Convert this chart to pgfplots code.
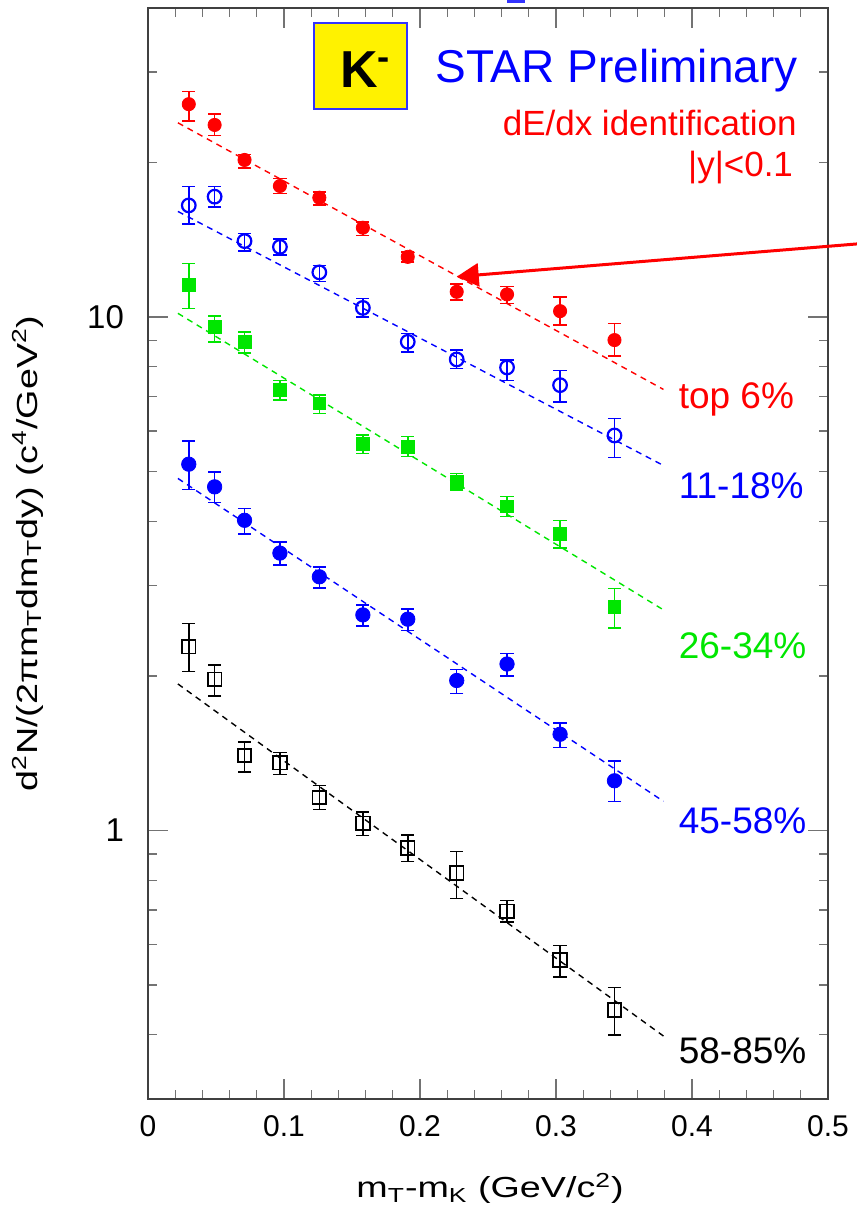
\documentclass[border=0pt]{standalone}
\usepackage{fontspec}
\setmainfont{Liberation Sans}
\newfontfamily\widesans[FakeStretch=1.3]{Liberation Sans}
\usepackage{pgfplots}
\pgfplotsset{compat=1.18}
\usetikzlibrary{arrows.meta}
\definecolor{rred}{RGB}{255,0,0}
\definecolor{rblue}{RGB}{0,0,255}
\definecolor{rgreen}{RGB}{0,230,0}
\pgfplotsset{
  errstyle/.style={only marks, error bars/y dir=both, error bars/y explicit,
    error bars/error bar style={line width=0.75pt},
    error bars/error mark options={rotate=90, mark size=3.3pt, line width=0.75pt}},
  fitline/.style={dash pattern=on 3pt off 2.5pt, line width=0.7pt},
}
\begin{document}
\begin{tikzpicture}
\begin{axis}[
  scale only axis, width=340pt, height=545.5pt,
  xmin=0, xmax=0.5, ymode=log, ymin=0.3, ymax=40,
  clip=false,
  axis line style={line width=1.2pt, draw=black!75},
  every tick/.style={draw=black!55, line width=0.6pt},
  major tick length=10pt, minor tick length=4.5pt,
  xtick={0,0.1,0.2,0.3,0.4,0.5},
  xticklabels={0,0.1,0.2,0.3,0.4,0.5},
  minor x tick num=4,
  ytick={1,10}, yticklabels={1,10},
  minor ytick={0.3,0.4,0.5,0.6,0.7,0.8,0.9,2,3,4,5,6,7,8,9,20,30,40},
  /pgf/number format/assume math mode=true,
  xticklabel style={font=\fontsize{15}{17}\selectfont, yshift=-4.5pt},
  yticklabel style={font=\fontsize{16.5}{18}\selectfont, xshift=-8.5pt},
  xlabel={m\textsubscript{T}-m\textsubscript{K} (GeV/c\textsuperscript{2})},
  ylabel={d\textsuperscript{2}N/(2πm\textsubscript{T}dm\textsubscript{T}dy) (c\textsuperscript{4}/GeV\textsuperscript{2})},
  xlabel style={font=\widesans\fontsize{14.5}{16}\selectfont, at={(axis description cs:0.503,-0.082)}, anchor=center},
  ylabel style={font=\widesans\fontsize{14.5}{16}\selectfont, at={(axis description cs:-0.1765,0.5)}, anchor=center, rotate=0},
]
% fit lines
\addplot[rred, fitline] coordinates {(0.022,23.9) (0.379,7.23)};
\addplot[rblue, fitline] coordinates {(0.022,16.06) (0.379,5.14)};
\addplot[rgreen, fitline] coordinates {(0.022,10.17) (0.379,2.69)};
\addplot[rblue, fitline] coordinates {(0.022,4.85) (0.379,1.14)};
\addplot[black, fitline] coordinates {(0.022,1.93) (0.379,0.398)};

% top 6%
\addplot[rred, mark=*, mark size=3.3pt, errstyle] coordinates {
(0.030,25.98) += (0,1.5) -= (0,1.9)
(0.049,23.67) += (0,1.2) -= (0,1.1)
(0.071,20.23) += (0,0.5) -= (0,0.7)
(0.097,18.0) += (0,0.6) -= (0,0.6)
(0.126,17.08) += (0,0.45) -= (0,0.55)
(0.158,14.93) += (0,0.4) -= (0,0.5)
(0.191,13.1) += (0,0.3) -= (0,0.3)
(0.227,11.2) += (0,0.4) -= (0,0.4)
(0.264,11.07) += (0,0.4) -= (0,0.45)
(0.303,10.27) += (0,0.67) -= (0,0.62)
(0.343,9.02) += (0,0.7) -= (0,0.62)
};
% 11-18%
\addplot[rblue, mark=o, mark size=3.4pt, mark options={line width=1.1pt, fill=white}, errstyle] coordinates {
(0.030,16.5) += (0,1.48) -= (0,1.32)
(0.049,17.16) += (0,0.82) -= (0,0.76)
(0.071,14.06) += (0,0.5) -= (0,0.6)
(0.097,13.7) += (0,0.5) -= (0,0.5)
(0.126,12.22) += (0,0.38) -= (0,0.5)
(0.158,10.42) += (0,0.46) -= (0,0.41)
(0.191,8.95) += (0,0.34) -= (0,0.39)
(0.227,8.27) += (0,0.36) -= (0,0.33)
(0.264,7.98) += (0,0.26) -= (0,0.45)
(0.303,7.37) += (0,0.5) -= (0,0.54)
(0.343,5.88) += (0,0.47) -= (0,0.55)
};
% 26-34%
\addplot[rgreen, mark=square*, mark size=3.2pt, errstyle] coordinates {
(0.030,11.54) += (0,1.19) -= (0,1.14)
(0.049,9.58) += (0,0.46) -= (0,0.63)
(0.071,8.95) += (0,0.41) -= (0,0.43)
(0.097,7.21) += (0,0.32) -= (0,0.32)
(0.126,6.79) += (0,0.26) -= (0,0.3)
(0.158,5.67) += (0,0.22) -= (0,0.25)
(0.191,5.59) += (0,0.26) -= (0,0.24)
(0.227,4.77) += (0,0.19) -= (0,0.17)
(0.264,4.28) += (0,0.19) -= (0,0.19)
(0.303,3.78) += (0,0.24) -= (0,0.23)
(0.343,2.73) += (0,0.23) -= (0,0.25)
};
% 45-58%
\addplot[rblue, mark=*, mark size=3.6pt, errstyle] coordinates {
(0.030,5.17) += (0,0.57) -= (0,0.55)
(0.049,4.67) += (0,0.32) -= (0,0.32)
(0.071,4.02) += (0,0.22) -= (0,0.24)
(0.097,3.47) += (0,0.18) -= (0,0.18)
(0.126,3.12) += (0,0.14) -= (0,0.15)
(0.158,2.63) += (0,0.12) -= (0,0.13)
(0.191,2.58) += (0,0.12) -= (0,0.13)
(0.227,1.96) += (0,0.10) -= (0,0.11)
(0.264,2.11) += (0,0.10) -= (0,0.11)
(0.303,1.54) += (0,0.08) -= (0,0.09)
(0.343,1.25) += (0,0.115) -= (0,0.11)
};
% 58-85%
\addplot[black, mark=square, mark size=3.4pt, mark options={line width=0.9pt, fill=white}, errstyle] coordinates {
(0.030,2.28) += (0,0.25) -= (0,0.24)
(0.049,1.97) += (0,0.13) -= (0,0.14)
(0.071,1.40) += (0,0.086) -= (0,0.10)
(0.097,1.355) += (0,0.065) -= (0,0.07)
(0.126,1.16) += (0,0.064) -= (0,0.06)
(0.158,1.033) += (0,0.053) -= (0,0.055)
(0.191,0.925) += (0,0.056) -= (0,0.054)
(0.227,0.826) += (0,0.085) -= (0,0.088)
(0.264,0.696) += (0,0.034) -= (0,0.033)
(0.303,0.560) += (0,0.037) -= (0,0.041)
(0.343,0.447) += (0,0.048) -= (0,0.047)
};

% series labels
\node[anchor=base west, inner sep=0pt, text=rred, font=\fontsize{18.5}{20}\selectfont] at (axis cs:0.39,6.65) {top 6\%};
\node[anchor=base west, inner sep=0pt, text=rblue, font=\fontsize{18.5}{20}\selectfont] at (axis cs:0.39,4.44) {11-18\%};
\node[anchor=base west, inner sep=0pt, text=rgreen, font=\fontsize{18.5}{20}\selectfont] at (axis cs:0.39,2.164) {26-34\%};
\node[anchor=base west, inner sep=0pt, text=rblue, font=\fontsize{18.5}{20}\selectfont] at (axis cs:0.39,0.9866) {45-58\%};
\node[anchor=base west, inner sep=0pt, text=black, font=\fontsize{18.5}{20}\selectfont] at (axis cs:0.39,0.3514) {58-85\%};

% header
\draw[rblue!80, line width=0.7pt, fill=yellow] (axis description cs:0.2441,0.9074) rectangle (axis description cs:0.3809,0.9863);
\node[anchor=base west, inner sep=0pt, font=\fontsize{26}{28}\selectfont\bfseries] at (axis description cs:0.2824,0.9267) {K\textsuperscript{-}};
\node[anchor=base east, inner sep=0pt, text=rblue, font=\fontsize{23}{26}\selectfont] at (axis description cs:0.9559,0.9313) {STAR Preliminary};
\node[anchor=base east, inner sep=0pt, text=rred, font=\fontsize{17.5}{20}\selectfont] at (axis description cs:0.9544,0.8827) {dE/dx identification};
\node[anchor=base east, inner sep=0pt, text=rred, font=\fontsize{17.5}{20}\selectfont] at (axis description cs:0.949,0.8454) {|y|<0.1};

% arrow
\draw[rred, line width=1.5pt, -{Triangle[length=11pt,width=11.5pt]}] (axis description cs:1.0426,0.7837) -- (axis description cs:0.454,0.7537);
\fill[rblue!80] (axis description cs:0.528,1.0073) rectangle (axis description cs:0.5544,1.0045);

\coordinate (bbsw) at (axis description cs:-0.2176,-0.0999);
\coordinate (bbne) at (axis description cs:1.0426,1.0073);
\end{axis}
\pgfresetboundingbox
\path (bbsw) rectangle (bbne);
\end{tikzpicture}
\end{document}
